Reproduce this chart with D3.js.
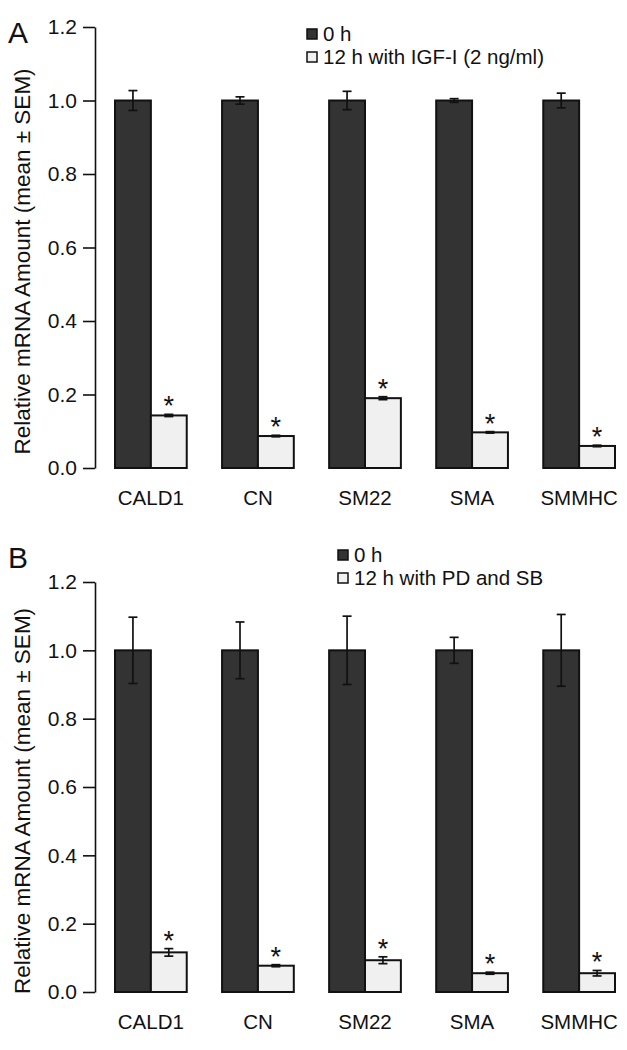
<!DOCTYPE html>
<html>
<head>
<meta charset="utf-8">
<script src="https://cdn.jsdelivr.net/npm/d3@7/dist/d3.min.js"></script>
<style>
  body { margin: 0; background: #fff; }
  svg text { font-family: "Liberation Sans", Arial, Helvetica, sans-serif; fill: #111; }
</style>
</head>
<body>
<div id="chart"></div>
<script>
// genes on the x axis
var genes = ["CALD1", "CN", "SM22", "SMA", "SMMHC"];
var yTicks = [0, 0.2, 0.4, 0.6, 0.8, 1.0, 1.2];

// panel A: IGF-I
var ctrlA = [1, 1, 1, 1, 1];
var ctrlErrA = [0.027, 0.01, 0.025, 0.005, 0.02];
var trtA = [0.143, 0.087, 0.19, 0.097, 0.06];
var trtErrA = [0.003, 0.002, 0.004, 0.002, 0.002];
var legendA = ["0 h", "12 h with IGF-I (2 ng/ml)"];

// panel B: PD and SB
var ctrlB = [1, 1, 1, 1, 1];
var ctrlErrB = [0.097, 0.083, 0.1, 0.038, 0.105];
var trtB = [0.116, 0.077, 0.093, 0.055, 0.055];
var trtErrB = [0.011, 0.003, 0.01, 0.003, 0.008];
var legendB = ["0 h", "12 h with PD and SB"];

var width = 627, height = 1050;
var colors = ["#333333", "#f0f0f0"];

var svg = d3.select("#chart").append("svg")
    .attr("width", width)
    .attr("height", height);

function panel(opt) {
    var g = svg.append("g");

    var x = d3.scaleBand().domain(genes).range([115, 615]).paddingInner(0.33).paddingOuter(0);
    var sub = d3.scaleBand().domain([0, 1]).range([0, x.bandwidth()]);
    var y = d3.scaleLinear().domain([0, 1.2]).range([opt.y0, opt.y1]);

    // y axis
    var yAxis = d3.axisLeft(y)
        .tickValues(yTicks)
        .tickFormat(d3.format(".1f"))
        .tickSize(12)
        .tickSizeOuter(0)
        .tickPadding(6);
    var ax = g.append("g")
        .attr("transform", "translate(95,0)")
        .call(yAxis);
    ax.selectAll("path, line").attr("stroke", "#111").attr("stroke-width", 1.6);
    ax.selectAll("text").style("font-size", "21px").attr("fill", "#111");

    g.append("text")
        .attr("transform", "translate(" + 30 + "," + ((opt.y0 + opt.y1) / 2 + 14) + ") rotate(-90)")
        .attr("text-anchor", "middle")
        .style("font-size", "22.5px")
        .text("Relative mRNA Amount (mean \u00b1 SEM)");

    // panel letter
    g.append("text")
        .attr("x", 8)
        .attr("y", opt.letterY)
        .style("font-size", "30px")
        .text(opt.letter);

    var rows = genes.map(function (gname, i) {
        return [
            { gene: gname, s: 0, v: opt.ctrl[i], e: opt.ctrlErr[i] },
            { gene: gname, s: 1, v: opt.trt[i], e: opt.trtErr[i] }
        ];
    });
    var flat = [].concat.apply([], rows);

    g.selectAll(".bar")
        .data(flat)
        .enter()
        .append("rect")
        .classed("bar", true)
        .attr("x", function (d) { return x(d.gene) + sub(d.s); })
        .attr("y", function (d) { return y(d.v); })
        .attr("width", sub.bandwidth())
        .attr("height", function (d) { return y(0) - y(d.v); })
        .attr("fill", function (d) { return colors[d.s]; })
        .attr("stroke", "#111")
        .attr("stroke-width", 2);

    // error bars
    var eg = g.selectAll(".err")
        .data(flat)
        .enter()
        .append("g")
        .classed("err", true)
        .attr("transform", function (d) {
            return "translate(" + (x(d.gene) + sub(d.s) + sub.bandwidth() / 2) + ",0)";
        });
    eg.append("line")
        .attr("y1", function (d) { return y(d.v + d.e); })
        .attr("y2", function (d) { return y(d.v - d.e); })
        .attr("stroke", "#111").attr("stroke-width", 1.7);
    eg.append("line")
        .attr("x1", -4.5).attr("x2", 4.5)
        .attr("y1", function (d) { return y(d.v + d.e); })
        .attr("y2", function (d) { return y(d.v + d.e); })
        .attr("stroke", "#111").attr("stroke-width", 1.7);
    eg.append("line")
        .attr("x1", -4.5).attr("x2", 4.5)
        .attr("y1", function (d) { return y(d.v - d.e); })
        .attr("y2", function (d) { return y(d.v - d.e); })
        .attr("stroke", "#111").attr("stroke-width", 1.7);

    // significance stars
    g.selectAll(".star")
        .data(flat.filter(function (d) { return d.s === 1; }))
        .enter()
        .append("text")
        .classed("star", true)
        .attr("x", function (d) { return x(d.gene) + sub(1) + sub.bandwidth() / 2; })
        .attr("y", function (d) { return y(d.v + d.e) + 1; })
        .attr("text-anchor", "middle")
        .style("font-size", "27px")
        .text("*");

    // category labels
    g.selectAll(".cat")
        .data(genes)
        .enter()
        .append("text")
        .classed("cat", true)
        .attr("x", function (d) { return x(d) + x.bandwidth() / 2; })
        .attr("y", opt.y0 + 37)
        .attr("text-anchor", "middle")
        .style("font-size", "20.5px")
        .text(function (d) { return d; });

    // legend
    var lg = g.append("g").attr("transform", "translate(" + opt.legX + "," + opt.legY + ")");
    var li = lg.selectAll(".leg")
        .data(opt.legend)
        .enter()
        .append("g")
        .attr("transform", function (d, i) { return "translate(0," + (i * 23) + ")"; });
    li.append("rect")
        .attr("x", 0).attr("y", -5)
        .attr("width", 10).attr("height", 10)
        .attr("fill", function (d, i) { return colors[i]; })
        .attr("stroke", "#111")
        .attr("stroke-width", 1.5);
    li.append("text")
        .attr("x", 16)
        .attr("y", 7)
        .style("font-size", "20.5px")
        .text(function (d) { return d; });
}

panel({ letter: "A", letterY: 43, y0: 468, y1: 27, ctrl: ctrlA, ctrlErr: ctrlErrA, trt: trtA, trtErr: trtErrA,
        legend: legendA, legX: 307, legY: 34 });
panel({ letter: "B", letterY: 568, y0: 992, y1: 582, ctrl: ctrlB, ctrlErr: ctrlErrB, trt: trtB, trtErr: trtErrB,
        legend: legendB, legX: 338, legY: 555 });
</script>
</body>
</html>
